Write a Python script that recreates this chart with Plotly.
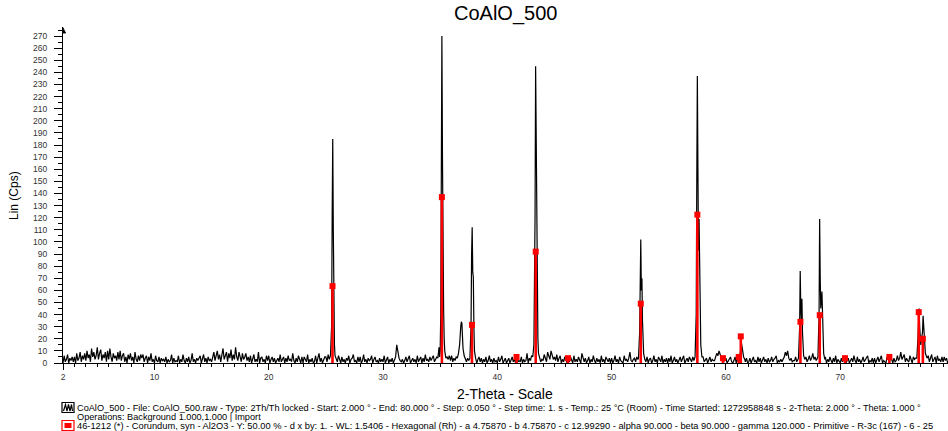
import numpy as np
import plotly.graph_objects as go

# ---------------- measured pattern ----------------
# background-level counts, 2.0 .. 79.4 deg 2-theta, every 0.1 deg (one row per degree)
BASE_START = 2.0
BASE_STEP = 0.1
baseline_counts = [
    0, 6, 1, 3, 7, 0, 4, 2, 5, 1,     # 2
    5, 0, 8, 2, 4, 9, 1, 6, 3, 8,     # 3
    2, 10, 4, 7, 1, 12, 5, 9, 3, 6,   # 4
    13, 3, 8, 11, 2, 7, 4, 9, 1, 10,  # 5
    3, 12, 5, 1, 8, 4, 6, 2, 9, 3,    # 6
    10, 2, 6, 8, 1, 5, 0, 7, 3, 8,    # 7
    2, 5, 0, 9, 3, 1, 6, 2, 7, 4,     # 8
    7, 1, 4, 6, 0, 5, 2, 8, 1, 3,     # 9
    0, 6, 2, 1, 5, 0, 4, 2, 3, 1,     # 10
    5, 0, 3, 1, 2, 7, 0, 4, 1, 2,     # 11
    1, 6, 0, 3, 1, 7, 2, 0, 4, 1,     # 12
    5, 0, 2, 8, 1, 3, 0, 4, 2, 5,     # 13
    6, 0, 3, 7, 1, 4, 0, 5, 2, 3,     # 14
    1, 5, 9, 2, 6, 10, 3, 7, 1, 8,    # 15
    12, 3, 6, 9, 1, 8, 4, 11, 2, 7,   # 16
    3, 13, 5, 2, 9, 6, 1, 8, 3, 5,    # 17
    8, 2, 5, 1, 6, 0, 4, 7, 1, 3,     # 18
    1, 9, 0, 4, 5, 1, 3, 0, 6, 2,     # 19
    6, 0, 3, 5, 1, 4, 0, 2, 4, 1,     # 20
    7, 1, 3, 5, 0, 4, 1, 6, 2, 3,     # 21
    1, 8, 2, 0, 4, 1, 6, 3, 0, 5,     # 22
    0, 5, 2, 1, 7, 0, 3, 1, 4, 0,     # 23
    1, 6, 0, 3, 8, 1, 4, 0, 2, 5,     # 24
    5, 1, 7, 2, 3, 6, 1, 4, 2, 6,     # 25
    1, 6, 2, 0, 5, 1, 3, 0, 4, 2,     # 26
    6, 0, 3, 4, 7, 1, 2, 0, 5, 1,     # 27
    5, 0, 2, 7, 1, 3, 0, 4, 2, 3,     # 28
    6, 0, 3, 5, 1, 2, 0, 4, 1, 3,     # 29
    1, 6, 0, 2, 5, 0, 3, 1, 4, 0,     # 30
    2, 5, 15, 8, 4, 2, 1, 3, 0, 2,    # 31
    5, 1, 3, 6, 0, 2, 4, 1, 3, 0,     # 32
    6, 1, 3, 5, 0, 4, 1, 7, 2, 3,     # 33
    1, 5, 2, 4, 6, 1, 3, 5, 4, 6,     # 34
    4, 5, 6, 5, 1, 2, 5, 3, 6, 2,     # 35
    6, 1, 4, 2, 5, 3, 8, 4, 5, 2,     # 36
    5, 4, 6, 1, 4, 2, 6, 3, 5, 2,     # 37
    1, 6, 0, 3, 5, 1, 4, 0, 3, 1,     # 38
    5, 0, 2, 6, 1, 3, 0, 4, 1, 2,     # 39
    0, 5, 1, 3, 6, 0, 2, 4, 0, 3,     # 40
    4, 0, 2, 5, 1, 3, 0, 6, 1, 2,     # 41
    1, 5, 0, 3, 1, 2, 8, 0, 4, 2,     # 42
    6, 1, 5, 4, 6, 2, 7, 4, 1, 3,     # 43
    2, 7, 4, 1, 9, 5, 3, 10, 6, 3,    # 44
    5, 2, 7, 1, 4, 6, 0, 3, 1, 5,     # 45
    4, 0, 3, 1, 5, 2, 0, 6, 1, 3,     # 46
    1, 5, 2, 0, 8, 3, 1, 4, 0, 2,     # 47
    5, 0, 3, 1, 6, 2, 0, 4, 1, 3,     # 48
    0, 6, 1, 3, 0, 5, 2, 1, 4, 0,     # 49
    4, 0, 2, 6, 1, 3, 0, 5, 2, 1,     # 50
    0, 6, 2, 3, 1, 4, 9, 2, 1, 3,     # 51
    4, 1, 5, 3, 4, 6, 1, 5, 0, 4,     # 52
    1, 5, 0, 3, 4, 0, 2, 6, 1, 3,     # 53
    0, 5, 2, 1, 6, 0, 3, 1, 4, 0,     # 54
    4, 1, 6, 0, 2, 5, 1, 3, 0, 2,     # 55
    5, 1, 3, 6, 0, 2, 4, 1, 5, 3,     # 56
    1, 5, 2, 4, 6, 4, 5, 1, 4, 0,     # 57
    5, 1, 3, 4, 0, 2, 5, 1, 3, 2,     # 58
    2, 5, 8, 6, 10, 7, 4, 2, 1, 3,    # 59
    4, 0, 2, 3, 5, 1, 0, 2, 5, 0,     # 60
    4, 1, 5, 4, 5, 2, 3, 1, 4, 0,     # 61
    1, 4, 0, 3, 5, 1, 2, 0, 5, 1,     # 62
    4, 0, 2, 5, 1, 3, 0, 4, 1, 2,     # 63
    5, 1, 3, 4, 6, 0, 2, 1, 3, 1,     # 64
    3, 5, 9, 6, 10, 4, 2, 4, 1, 2,    # 65
    2, 5, 1, 3, 5, 4, 2, 6, 3, 1,     # 66
    5, 1, 3, 6, 2, 4, 8, 3, 5, 2,     # 67
    4, 3, 5, 4, 6, 2, 1, 5, 0, 3,     # 68
    1, 5, 2, 0, 4, 1, 6, 0, 3, 1,     # 69
    0, 4, 1, 3, 5, 0, 2, 4, 0, 2,     # 70
    4, 1, 6, 2, 0, 5, 1, 3, 0, 2,     # 71
    5, 1, 3, 4, 6, 0, 2, 1, 4, 0,     # 72
    4, 0, 2, 5, 1, 3, 6, 0, 2, 1,     # 73
    0, 5, 2, 1, 6, 3, 0, 4, 1, 2,     # 74
    6, 2, 4, 9, 3, 5, 7, 1, 4, 2,     # 75
    1, 6, 2, 0, 5, 3, 4, 1, 3, 2,     # 76
    5, 4, 3, 6, 1, 2, 4, 6, 1, 5,     # 77
    7, 1, 4, 5, 0, 6, 2, 3, 1, 5,     # 78
    1, 5, 2, 4, 0,                    # 79.0 - 79.4
]

# reflection profiles (2-theta, counts)
peak_theta = [
    [25.3, 25.4, 25.5, 25.55, 25.6, 25.65, 25.7, 25.75, 25.8, 25.9],
    [34.8, 34.9, 34.95, 35.0, 35.05, 35.1, 35.15, 35.2, 35.25, 35.3, 35.35, 35.4, 35.5],
    [36.5, 36.6, 36.7, 36.75, 36.8, 36.85, 36.9, 36.95, 37.0, 37.1, 37.2],
    [37.6, 37.7, 37.75, 37.8, 37.85, 37.9, 37.95, 38.0, 38.1],
    [43.1, 43.2, 43.3, 43.35, 43.4, 43.45, 43.5, 43.55, 43.6, 43.7],
    [52.35, 52.45, 52.5, 52.55, 52.6, 52.65, 52.7, 52.8, 52.9],
    [57.3, 57.4, 57.45, 57.5, 57.55, 57.6, 57.65, 57.7, 57.8, 57.9],
    [61.2, 61.3, 61.35, 61.4, 61.45, 61.5, 61.55, 61.65],
    [66.35, 66.45, 66.5, 66.55, 66.6, 66.65, 66.7, 66.8, 66.9],
    [68.05, 68.15, 68.2, 68.25, 68.3, 68.4, 68.45, 68.55, 68.65],
    [76.7, 76.8, 76.85, 76.9, 76.95, 77.0, 77.05, 77.1, 77.2, 77.25, 77.3, 77.35, 77.45, 77.6],
]
peak_counts = [
    [3, 6, 30, 120, 185, 110, 40, 15, 6, 3],
    [4, 13, 5, 10, 40, 150, 270, 170, 80, 45, 20, 10, 4],
    [4, 8, 15, 28, 30, 34, 33, 22, 12, 6, 3],
    [4, 30, 90, 112, 75, 71, 30, 10, 4],
    [5, 15, 120, 245, 190, 100, 60, 20, 8, 4],
    [4, 25, 80, 102, 60, 70, 35, 8, 3],
    [5, 40, 150, 237, 160, 93, 119, 60, 15, 5],
    [4, 12, 17, 14, 10, 11, 5, 3],
    [4, 30, 76, 45, 35, 53, 25, 6, 3],
    [5, 40, 119, 70, 45, 59, 30, 8, 3],
    [4, 20, 40, 45, 30, 18, 15, 20, 25, 39, 30, 18, 8, 4],
]

# 46-1212 Corundum reference lines (Y: 50 %)
corundum_theta = [25.58, 35.15, 37.78, 41.68, 43.36, 46.18, 52.55, 57.50, 59.74,
                  61.12, 61.30, 66.52, 68.21, 70.42, 74.30, 76.87, 77.23]
corundum_counts = [63.5, 137, 31.5, 5, 92, 4, 49, 122.5, 4,
                   5, 22, 34, 39.5, 4, 5, 42, 20]

x_tick_vals = [2, 10, 20, 30, 40, 50, 60, 70]
y_tick_vals = list(range(0, 280, 10))

# ---------------- assemble the scan ----------------
theta_base = BASE_START + BASE_STEP * np.arange(len(baseline_counts))
counts_base = np.array(baseline_counts, dtype=float)
keep = np.ones(len(theta_base), dtype=bool)
for th in peak_theta:
    keep &= ~((theta_base >= min(th) - 1e-9) & (theta_base <= max(th) + 1e-9))
theta_all = np.concatenate([theta_base[keep]] + [np.array(t) for t in peak_theta])
counts_all = np.concatenate([counts_base[keep]] + [np.array(c, float) for c in peak_counts])
order = np.argsort(theta_all)
theta_all, counts_all = theta_all[order], counts_all[order]

# stick lines for the reference card
stick_x, stick_y = [], []
for t, c in zip(corundum_theta, corundum_counts):
    stick_x += [t, t, None]
    stick_y += [0, c, None]

FONT = "Liberation Sans, Arial, sans-serif"
W, H = 948, 431
ML, MT, MB = 63, 30, 68
PW, PH = W - ML, H - MT - MB


def px(x):
    return (x - ML) / PW


def py(y):
    return (H - MB - y) / PH


fig = go.Figure()
fig.add_trace(go.Scatter(x=theta_all, y=counts_all, mode="lines",
                         line=dict(color="black", width=1.2), hoverinfo="skip",
                         showlegend=False))
fig.add_trace(go.Scatter(x=stick_x, y=stick_y, mode="lines",
                         line=dict(color="#ff0000", width=2.6), showlegend=False,
                         hoverinfo="skip"))
fig.add_trace(go.Scatter(x=corundum_theta, y=corundum_counts, mode="markers",
                         marker=dict(symbol="square", size=6, color="#ff0000",
                                     line=dict(width=0)),
                         cliponaxis=False, showlegend=False))

fig.update_layout(
    width=W, height=H,
    margin=dict(l=ML, r=0, t=MT, b=MB, pad=0),
    paper_bgcolor="white", plot_bgcolor="white",
    font=dict(family=FONT, color="black"),
    showlegend=False,
)
fig.update_xaxes(
    range=[2, 79.43], showgrid=False, zeroline=False,
    showline=True, linecolor="black", linewidth=1,
    tickmode="array", tickvals=x_tick_vals,
    ticks="outside", ticklen=6, tickwidth=1, tickcolor="black",
    tickfont=dict(size=8.5, color="#333"),
    minor=dict(ticks="outside", ticklen=3, tickwidth=1, tickcolor="black",
               tick0=0, dtick=1, showgrid=False),
)
fig.update_yaxes(
    range=[0, 275], showgrid=False, zeroline=False,
    showline=True, linecolor="black", linewidth=1,
    tickmode="array", tickvals=y_tick_vals,
    ticks="outside", ticklen=8, tickwidth=1, tickcolor="black",
    tickfont=dict(size=8.5, color="#333"), ticklabelstandoff=5,
    minor=dict(ticks="outside", ticklen=4, tickwidth=1, tickcolor="black",
               tick0=0, dtick=5, showgrid=False),
)

ann = [
    dict(text="CoAlO_500", x=px(505), y=py(14), font=dict(size=20)),
    dict(text="2-Theta - Scale", x=px(505), y=py(394), font=dict(size=14)),
    dict(text="Lin (Cps)", x=px(14), y=py(196), font=dict(size=12), textangle=-90),
]
legend_lines = [
    (75, 407.5, 9.2, "CoAlO_500 - File: CoAlO_500.raw - Type: 2Th/Th locked - Start: 2.000 ° - End: 80.000 ° - "
                     "Step: 0.050 ° - Step time: 1. s - Temp.: 25 °C (Room) - Time Started: 1272958848 s - "
                     "2-Theta: 2.000 ° - Theta: 1.000 °"),
    (75, 416.5, 9.2, "Operations: Background 1.000,1.000 | Import"),
    (75, 425.5, 9.3, "46-1212 (*) - Corundum, syn - Al2O3 - Y: 50.00 % - d x by: 1. - WL: 1.5406 - "
                     "Hexagonal (Rh) - a 4.75870 - b 4.75870 - c 12.99290 - alpha 90.000 - beta 90.000 - "
                     "gamma 120.000 - Primitive - R-3c (167) - 6 - 25"),
]
for lx, ly, fs, txt in legend_lines:
    ann.append(dict(text=txt, x=px(lx), y=py(ly), xanchor="left",
                    font=dict(size=fs)))
for a in ann:
    a.setdefault("xanchor", "center")
    fig.add_annotation(xref="paper", yref="paper", showarrow=False,
                       yanchor="middle", **a)

# legend swatches and the axis arrow head
shapes = [
    dict(type="rect", x0=px(62), x1=px(74), y0=py(402.5), y1=py(412.5),
         line=dict(color="black", width=1.2), fillcolor="white"),
    dict(type="path",
         path="M {} {} L {} {} L {} {} L {} {} L {} {} L {} {} L {} {}".format(
             px(63.5), py(411), px(65.5), py(404.5), px(67), py(411), px(68.5), py(404.5),
             px(70), py(411), px(71.5), py(404.5), px(72.5), py(411)),
         line=dict(color="black", width=1.2)),
    dict(type="rect", x0=px(62), x1=px(74), y0=py(420.5), y1=py(430.5),
         line=dict(color="#ff0000", width=1.2), fillcolor="white"),
    dict(type="rect", x0=px(64.5), x1=px(71.5), y0=py(423), y1=py(428),
         line=dict(width=0), fillcolor="#ff0000"),
    dict(type="path",
         path="M {} {} L {} {} L {} {} Z".format(px(62.5), py(27), px(65.5), py(33),
                                                 px(62.5), py(33)),
         line=dict(color="black", width=1), fillcolor="black"),
]
for s in shapes:
    fig.add_shape(xref="paper", yref="paper", layer="above", **s)

fig.write_html("out.html")
